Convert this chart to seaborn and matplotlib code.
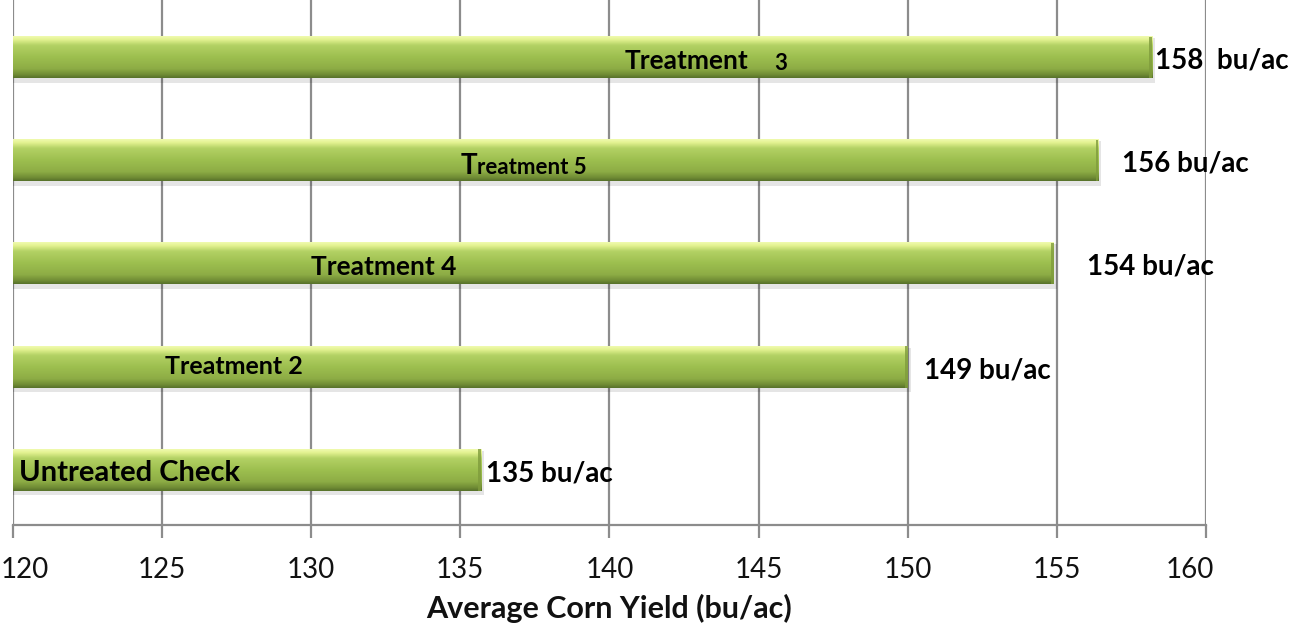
import numpy as np
import pandas as pd
import matplotlib
matplotlib.use("Agg")
import matplotlib.pyplot as plt
import matplotlib.transforms as mtransforms
import seaborn as sns
from matplotlib.colors import LinearSegmentedColormap

# ---- data ----
treatments = ["Treatment 3", "Treatment 5", "Treatment 4", "Treatment 2", "Untreated Check"]
yields = [158.2, 156.4, 154.9, 150.0, 135.7]
value_labels = ["158  bu/ac", "156 bu/ac", "154 bu/ac", "149 bu/ac", "135 bu/ac"]
x_ticks = [120, 125, 130, 135, 140, 145, 150, 155, 160]
x_title = "Average Corn Yield (bu/ac)"

# ---- styling (annotation placement, in data units) ----
inner_label_x = [140.5, 135.0, 130.0, 125.1, 120.2]
value_label_gap = [0.1, 0.8, 1.1, 0.55, 0.15]
XMIN = 120

df = pd.DataFrame({"Treatment": treatments, "Yield": yields})

sns.set_theme(style="white")
plt.rcParams["font.family"] = ["Lato", "DejaVu Sans"]

fig = plt.figure(figsize=(12.98, 6.24), dpi=100)
ax = fig.add_axes([0.010, 0.159, 0.919, 0.841])

sns.barplot(data=df, y="Treatment", x="Yield", orient="h", color="#9bbb59",
            width=0.4, ax=ax, zorder=3, edgecolor="none")

ax.set_xlim(120, 160)
ax.set_ylim(4.53, -0.557)

# gradient fill for bars
cmap = LinearSegmentedColormap.from_list(
    "bar", [(0.0, "#f0fab0"), (0.08, "#e4f392"), (0.22, "#b3d164"),
            (0.5, "#9dbf4f"), (0.78, "#8dac45"), (0.92, "#6f8b34"), (1.0, "#56712a")])
grad = np.linspace(0, 1, 256).reshape(-1, 1)
for p in list(ax.patches):
    x0, y0 = p.get_x(), p.get_y()
    w, h = p.get_width(), p.get_height()
    x1 = x0 + w
    xs = max(x0, XMIN)
    p.set_visible(False)
    ax.add_patch(plt.Rectangle((xs, y0 + h * 0.03), x1 - xs + 0.1, h * 1.08,
                               facecolor="#000000", alpha=0.10, zorder=2.5,
                               edgecolor="none"))
    ax.imshow(grad, cmap=cmap, aspect="auto", extent=(xs, x1, y0 + h, y0),
              zorder=3.2, interpolation="bilinear")
    ax.add_patch(plt.Rectangle((x1 - 0.1, y0), 0.1, h, facecolor="#7f9c3c",
                               edgecolor="none", zorder=3.3, alpha=0.8))
ax.set_xlim(120, 160)
ax.set_ylim(4.53, -0.557)

# grid
ax.set_xticks(x_ticks)
ax.grid(axis="x", color="#8c8c8c", linewidth=1.6, zorder=1)
ax.grid(axis="y", visible=False)
ax.set_axisbelow(True)
for s in ["top", "right", "left"]:
    ax.spines[s].set_visible(False)
ax.spines["bottom"].set_color("#8c8c8c")
ax.spines["bottom"].set_linewidth(1.6)
ax.tick_params(axis="x", which="both", bottom=True, length=9, width=1.6,
               color="#8c8c8c", labelsize=20, pad=14, labelcolor="#111111")
ax.set_yticks([])
ax.set_ylabel("")
ax.set_xlabel(x_title, fontsize=22, fontweight="bold", labelpad=8, color="#111111")

labels = ax.get_xticklabels()
labels[0].set_transform(labels[0].get_transform() +
                        mtransforms.ScaledTranslation(0.12, 0, fig.dpi_scale_trans))
labels[-1].set_transform(labels[-1].get_transform() +
                         mtransforms.ScaledTranslation(-0.16, 0, fig.dpi_scale_trans))

# inner labels
kw = dict(va="center", fontweight="bold", color="black", zorder=5)
t3 = ax.text(inner_label_x[0], 0.03, "Treatment", ha="left", fontsize=19, **kw)
ax.annotate("3", xy=(1, 0.5), xycoords=t3, xytext=(19, -2), textcoords="offset points",
            ha="left", fontsize=16, **kw)
t5 = ax.text(inner_label_x[1], 1.05, "T", ha="left", fontsize=20, **kw)
ax.annotate("reatment 5", xy=(1, 0.42), xycoords=t5, xytext=(0, 0),
            textcoords="offset points", ha="left", fontsize=16, **kw)
ax.text(inner_label_x[2], 2.03, "Treatment 4", ha="left", fontsize=19, **kw)
ax.text(inner_label_x[3], 3.0, "Treatment 2", ha="left", fontsize=18, **kw)
ax.text(inner_label_x[4], 4.03, "Untreated Check", ha="left", fontsize=21, **kw)

for i, (v, lab, gap) in enumerate(zip(yields, value_labels, value_label_gap)):
    ax.text(v + gap, i + 0.03, lab, ha="left", va="center", fontsize=20,
            fontweight="bold", color="black", zorder=5, clip_on=False)

fig.savefig("out.png", dpi=100)
